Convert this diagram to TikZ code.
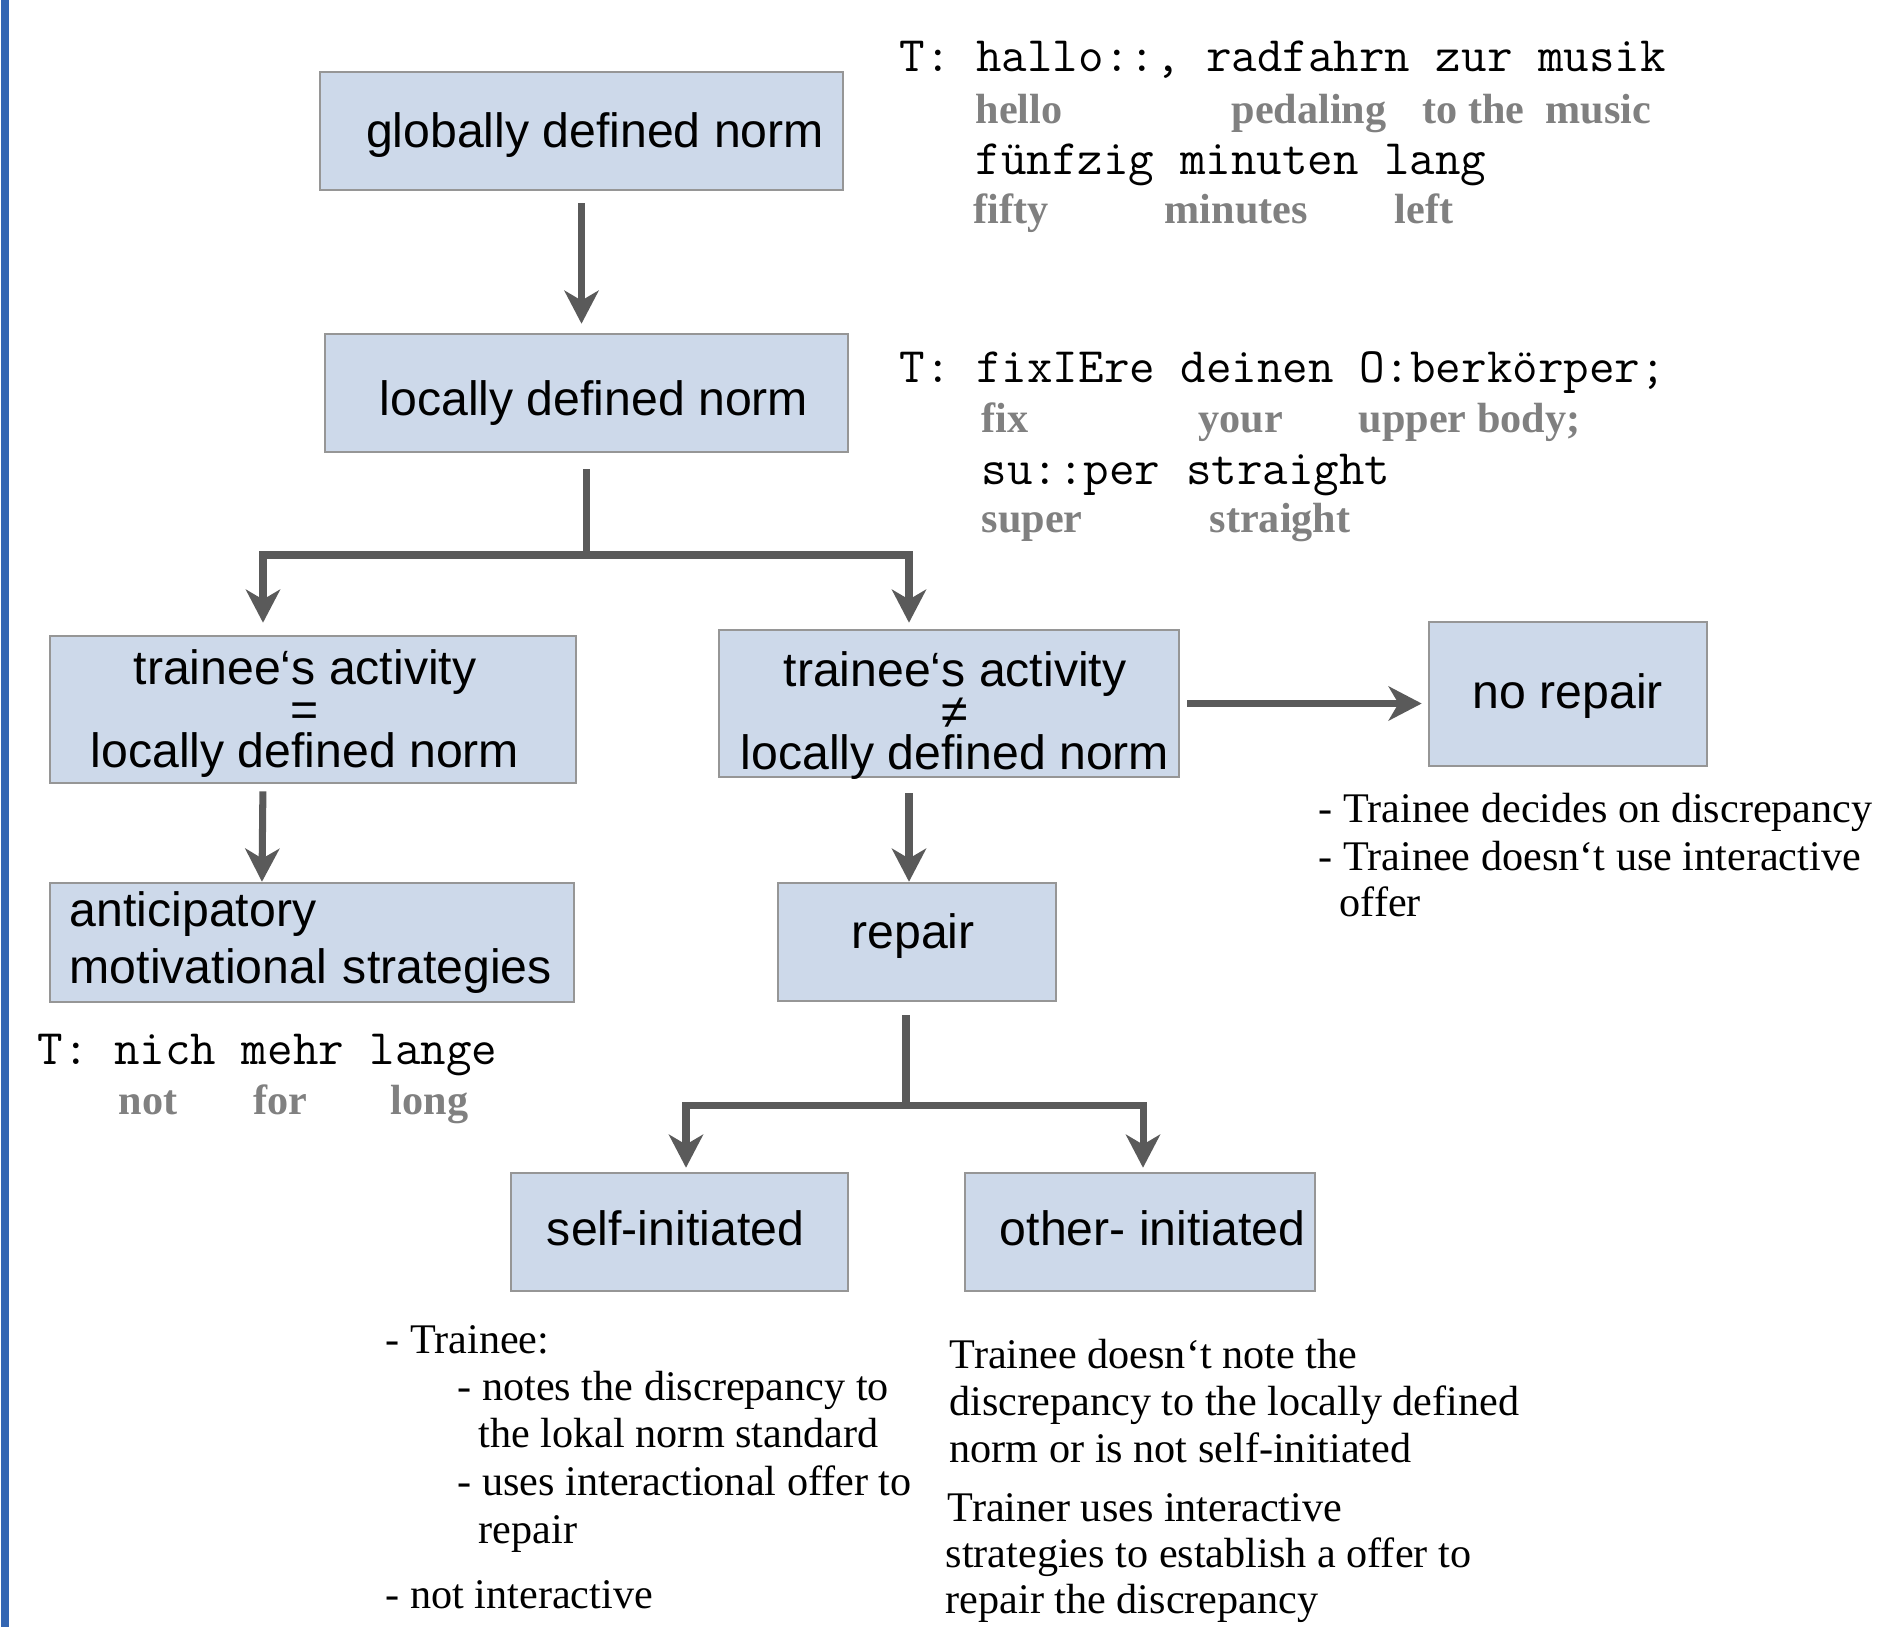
\documentclass[tikz,border=0pt]{standalone}
\usepackage{fontspec}
\setmainfont{Liberation Serif}
\setsansfont{Liberation Sans}
\usetikzlibrary{arrows.meta}

\definecolor{boxfill}{RGB}{205,217,234}
\definecolor{boxline}{RGB}{150,150,150}
\definecolor{arrowgray}{RGB}{90,90,90}
\definecolor{glossgray}{RGB}{128,128,128}
\definecolor{barblue}{RGB}{51,102,179}

\begin{document}
\begin{tikzpicture}[x=0.01cm, y=-0.01cm,
  box/.style={draw=boxline, line width=0.7pt, fill=boxfill, inner sep=0pt},
  boxtext/.style={inner sep=0pt, align=center,
    font=\sffamily\fontsize{13.7}{11.8}\selectfont},
  arr/.style={draw=arrowgray, line width=2pt,
    -{Stealth[length=9.4pt,width=9.7pt,inset=2.8pt]}},
  link/.style={draw=arrowgray, line width=2pt},
  talk/.style={anchor=base west, inner sep=0pt,
    font=\ttfamily\fontsize{14.1}{16}\selectfont},
  gloss/.style={anchor=base west, inner sep=0pt, text=glossgray,
    font=\bfseries\fontsize{12}{14}\selectfont},
  note/.style={anchor=base west, inner sep=0pt,
    font=\fontsize{12}{14}\selectfont}]
  \useasboundingbox (0,0) rectangle (1882,1627);
  \fill[barblue] (1,0) rectangle (9,1627);

  % Kästen
  \node[box, minimum width=5.23cm, minimum height=1.18cm] (glob) at (581.5,131) {};
  \node[box, minimum width=5.23cm, minimum height=1.18cm] (loc) at (586.5,393) {};
  \node[box, minimum width=5.26cm, minimum height=1.47cm] (eq) at (313,709.5) {};
  \node[box, minimum width=4.60cm, minimum height=1.47cm] (neq) at (949,703.5) {};
  \node[box, minimum width=2.78cm, minimum height=1.44cm] (norep) at (1568,694) {};
  \node[box, minimum width=5.24cm, minimum height=1.19cm] (antic) at (312,942.5) {};
  \node[box, minimum width=2.78cm, minimum height=1.18cm] (rep) at (917,942) {};
  \node[box, minimum width=3.37cm, minimum height=1.18cm] (self) at (679.5,1232) {};
  \node[box, minimum width=3.50cm, minimum height=1.18cm] (other) at (1140,1232) {};

  % Beschriftungen der Kästen
  \node[boxtext] (globt) at (595,135) {globally defined norm};
  \node[boxtext] (loct) at (594,403) {locally defined norm};
  \node[boxtext] (eqt) at (305,714) {trainee‘s activity\\=\\locally defined norm};
  \node[boxtext] (neqt) at (955,716) {trainee‘s activity\\≠\\locally defined norm};
  \node[boxtext] (norept) at (1568,696) {no repair};
  \node[boxtext, align=left, text width=4.84cm, font=\sffamily\fontsize{13.7}{16.4}\selectfont]
    (antict) at (312,942.5) {anticipatory\\motivational strategies};
  \node[boxtext] (rept) at (913,936) {repair};
  \node[boxtext] (selft) at (675.5,1228.5) {self-initiated};
  \node[boxtext] (othert) at (1152.5,1228.5) {other- initiated};

  % Verzweigungen
  \coordinate (split) at (583,555);
  \coordinate (splitL) at (263,555);
  \coordinate (splitR) at (909,555);
  \coordinate (split2) at (906,1105);
  \coordinate (splitA) at (686,1105);
  \coordinate (splitB) at (1143,1105);

  % Pfeile
  \draw[arr, shorten <=0.12cm, shorten >=0.09cm] (glob.south) -- (glob.south |- loc.north);
  \draw[link, shorten <=0.16cm] (loc.south) -- (loc.south |- split);
  \draw[arr, shorten >=0.12cm] (loc.south |- split) -- (splitL) -- (splitL |- eq.north);
  \draw[arr, shorten >=0.06cm] (loc.south |- split) -- (splitR) -- (splitR |- neq.north);
  \draw[arr, shorten <=0.07cm] ([xshift=-0.5cm]eq.south) -- ([xshift=-0.5cm]antic.north);
  \draw[arr, shorten <=0.07cm, shorten >=0.06cm] (neq.east) -- (norep.west |- neq.east);
  \draw[arr, shorten <=0.15cm] (neq.south -| splitR) -- (rep.north -| splitR);
  \draw[link, shorten <=0.13cm] (rep.south -| split2) -- (split2);
  \draw[arr, shorten >=0.04cm] (split2) -- (splitA) -- (splitA |- self.north);
  \draw[arr, shorten >=0.04cm] (split2) -- (splitB) -- (splitB |- other.north);

  % Beispiel globale Norm
  \node[talk] (hallo) at (899,71) {T: hallo::, radfahrn zur musik};
  \node[gloss] (hello) at (975,123) {hello};
  \node[gloss] (pedal) at (1231,123) {pedaling};
  \node[gloss] (tothe) at (1422,123) {to the};
  \node[gloss] (music) at (1545,123) {music};
  \node[talk] (fuenf) at (975,174) {fünfzig minuten lang};
  \node[gloss] (fifty) at (973,223) {fifty};
  \node[gloss] (minutes) at (1164,223) {minutes};
  \node[gloss] (leftw) at (1394,223) {left};

  % Beispiel lokale Norm
  \node[talk] (fixiere) at (899,382) {T: fixIEre deinen O:berkörper;};
  \node[gloss] (fix) at (981,432) {fix};
  \node[gloss] (your) at (1198,432) {your};
  \node[gloss] (upper) at (1358,432) {upper body;};
  \node[talk] (super) at (981,484) {su::per straight};
  \node[gloss] (superg) at (981,532) {super};
  \node[gloss] (straight) at (1209,532) {straight};

  % Beispiel Antizipation
  \node[talk] (nich) at (37,1064) {T: nich mehr lange};
  \node[gloss] (notw) at (118,1114) {not};
  \node[gloss] (forw) at (253,1114) {for};
  \node[gloss] (longw) at (390,1114) {long};

  % Erläuterungen
  \node[note] (nr1) at (1318,822) {- Trainee decides on discrepancy};
  \node[note] (nr2) at (1318,870) {- Trainee doesn‘t use interactive};
  \node[note] (nr3) at (1339,916) {offer};

  \node[note] (si1) at (385,1353) {- Trainee:};
  \node[note] (si2) at (457,1400) {- notes the discrepancy to};
  \node[note] (si3) at (478,1447) {the lokal norm standard};
  \node[note] (si4) at (457,1495) {- uses interactional offer to};
  \node[note] (si5) at (478,1543) {repair};
  \node[note] (si6) at (385,1608) {- not interactive};

  \node[note] (oi1) at (949,1368) {Trainee doesn‘t note the};
  \node[note] (oi2) at (949,1415) {discrepancy to the locally defined};
  \node[note] (oi3) at (949,1462) {norm or is not self-initiated};
  \node[note] (oi4) at (947,1521) {Trainer uses interactive};
  \node[note] (oi5) at (945,1567) {strategies to establish a offer to};
  \node[note] (oi6) at (945,1613) {repair the discrepancy};
\end{tikzpicture}
\end{document}
